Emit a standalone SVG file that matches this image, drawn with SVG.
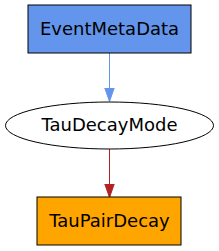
<svg xmlns="http://www.w3.org/2000/svg" width="219" height="251" viewBox="0 0 219 251">
<style>
text{font-family:"DejaVu Sans",sans-serif;font-size:18px;text-anchor:middle;fill:#000}
.n{stroke:#000;stroke-width:1}
</style>
<defs>
<marker id="ab" markerWidth="14" markerHeight="12" refX="13.5" refY="6" orient="auto" markerUnits="userSpaceOnUse"><path d="M0,1.3 L13.5,6 L0,10.7 Z" fill="#6495ED" stroke="#6495ED"/></marker>
<marker id="ar" markerWidth="14" markerHeight="12" refX="13.5" refY="6" orient="auto" markerUnits="userSpaceOnUse"><path d="M0,1.3 L13.5,6 L0,10.7 Z" fill="#B22222" stroke="#B22222"/></marker>
</defs>
<rect width="219" height="251" fill="#fff"/>
<g id="connectors" fill="none">
<path d="M109.5,53 L109.5,101.5" stroke="#6495ED" marker-end="url(#ab)"/>
<path d="M109.5,149 L109.5,197.5" stroke="#B22222" marker-end="url(#ar)"/>
</g>
<g id="EventMetaData">
<rect class="n" x="28" y="5" width="163" height="48" fill="#6495ED"/>
<text x="109.5" y="35">EventMetaData</text>
</g>
<g id="TauDecayMode">
<ellipse class="n" cx="109.5" cy="125.5" rx="104" ry="23.5" fill="#fff"/>
<text x="109.5" y="131">TauDecayMode</text>
</g>
<g id="TauPairDecay">
<rect class="n" x="37" y="197" width="144" height="48" fill="#FFA500"/>
<text x="109.5" y="227">TauPairDecay</text>
</g>
</svg>
